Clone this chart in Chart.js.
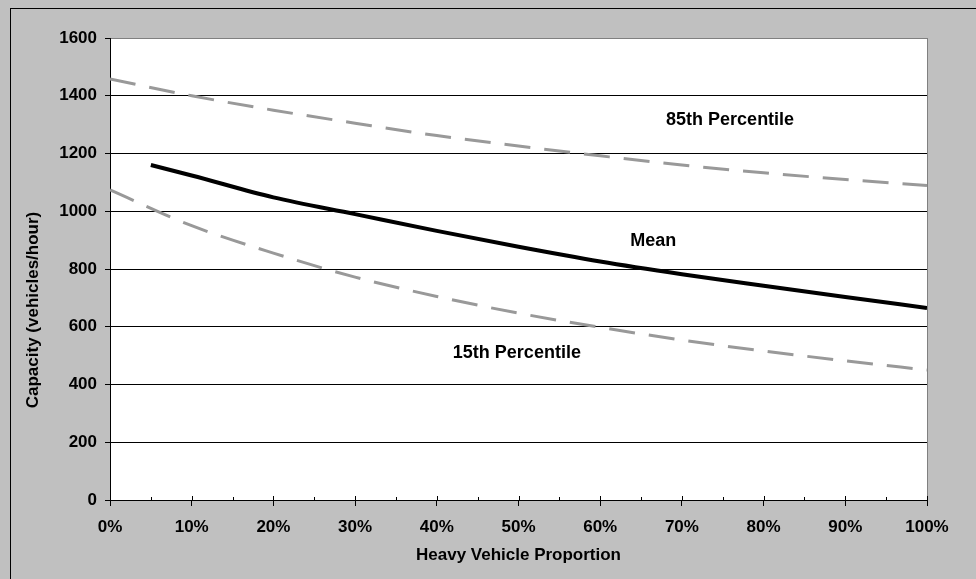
<!DOCTYPE html>
<html>
<head>
<meta charset="utf-8">
<script src="https://cdn.jsdelivr.net/npm/chart.js@4"></script>
<style>
  html, body { margin: 0; padding: 0; background: #c0c0c0; }
  #wrap { width: 976px; height: 579px; }
</style>
</head>
<body>
<div id="wrap"><canvas id="myChart" width="976" height="579"></canvas></div>
<script>
// heavy vehicle proportion (%)
var proportion = [0, 10, 20, 30, 40, 50, 60, 70, 80, 90, 100];
var meanProportion = [5, 10, 20, 30, 40, 50, 60, 70, 80, 90, 100];
var meanCapacity = [1160, 1124, 1048, 990, 932, 877, 826, 782, 742, 703, 665];
var pct85Capacity = [1458, 1400, 1350, 1305, 1262, 1226, 1192, 1160, 1133, 1110, 1089];
var pct15Capacity = [1074, 950, 855, 772, 705, 647, 598, 554, 516, 482, 450];
var yTicks = [0, 200, 400, 600, 800, 1000, 1200, 1400, 1600];
var curveLabels = [
    { text: '85th Percentile', x: 75.9, y: 1316 },
    { text: 'Mean', x: 66.5, y: 897 },
    { text: '15th Percentile', x: 49.8, y: 509 }
];

function pairs(xs, ys) {
    return xs.map(function (x, i) { return { x: x, y: ys[i] }; });
}

var FONT = 'Arial, "Liberation Sans", sans-serif';

var decor = {
    id: 'decor',
    beforeDraw: function (chart) {
        var c = chart.ctx;
        c.save();
        c.fillStyle = '#c0c0c0';
        c.fillRect(0, 0, chart.width, chart.height);
        c.strokeStyle = '#000';
        c.lineWidth = 1;
        c.strokeRect(10.5, 8.5, 3000, 3000);
        var a = chart.chartArea;
        c.fillStyle = '#fff';
        c.fillRect(a.left, a.top, a.right - a.left, a.bottom - a.top);
        c.restore();
    },
    afterDraw: function (chart) {
        var c = chart.ctx, a = chart.chartArea;
        var xs = chart.scales.x, ys = chart.scales.y;
        c.save();
        // right plot border
        c.strokeStyle = '#808080';
        c.lineWidth = 1;
        c.beginPath();
        c.moveTo(Math.round(a.right) + 0.5, a.top);
        c.lineTo(Math.round(a.right) + 0.5, a.bottom);
        c.stroke();
        // small inside ticks on x axis
        c.strokeStyle = '#000';
        c.beginPath();
        for (var p = 0; p <= 100; p += 5) {
            var px = Math.round(xs.getPixelForValue(p)) + 0.5;
            var len = p % 10 === 0 ? 4 : 3;
            c.moveTo(px, a.bottom);
            c.lineTo(px, a.bottom - len);
        }
        c.stroke();
        // curve labels
        c.fillStyle = '#000';
        c.font = 'bold 18px ' + FONT;
        c.textAlign = 'center';
        c.textBaseline = 'middle';
        curveLabels.forEach(function (l) {
            c.fillText(l.text, xs.getPixelForValue(l.x), ys.getPixelForValue(l.y));
        });
        // y axis title
        c.font = 'bold 17px ' + FONT;
        c.translate(33, 310);
        c.rotate(-Math.PI / 2);
        c.fillText('Capacity (vehicles/hour)', 0, 0);
        c.restore();
    }
};

var ctx = document.getElementById('myChart').getContext('2d');
var myChart = new Chart(ctx, {
    type: 'line',
    data: {
        datasets: [{
            label: '85th Percentile',
            data: pairs(proportion, pct85Capacity),
            borderColor: '#999999',
            borderWidth: 3,
            borderDash: [26, 14],
            pointRadius: 0,
            cubicInterpolationMode: 'monotone'
        }, {
            label: 'Mean',
            data: pairs(meanProportion, meanCapacity),
            borderColor: '#000000',
            borderWidth: 4,
            pointRadius: 0,
            cubicInterpolationMode: 'monotone'
        }, {
            label: '15th Percentile',
            data: pairs(proportion, pct15Capacity),
            borderColor: '#999999',
            borderWidth: 3,
            borderDash: [26, 14],
            pointRadius: 0,
            cubicInterpolationMode: 'monotone'
        }]
    },
    options: {
        responsive: false,
        animation: false,
        layout: { padding: { left: 0, top: 38, right: 49, bottom: 0 } },
        plugins: {
            legend: { display: false },
            tooltip: { enabled: false }
        },
        scales: {
            x: {
                type: 'linear',
                min: 0,
                max: 100,
                afterFit: function (s) { s.height = 79; },
                ticks: {
                    stepSize: 10,
                    padding: 11,
                    color: '#000',
                    maxRotation: 0,
                    font: { family: FONT, size: 17, weight: 'bold' },
                    callback: function (v) { return v + '%'; }
                },
                grid: { drawOnChartArea: false, color: '#000', tickLength: 6 },
                border: { color: '#000', width: 1 },
                title: {
                    display: true,
                    text: 'Heavy Vehicle Proportion',
                    color: '#000',
                    font: { family: FONT, size: 17, weight: 'bold' },
                    padding: { top: 0, bottom: 13 }
                }
            },
            y: {
                min: 0,
                max: 1600,
                afterFit: function (s) { s.width = 110; },
                afterBuildTicks: function (s) {
                    s.ticks = yTicks.map(function (v) { return { value: v }; });
                },
                ticks: {
                    padding: 8,
                    color: '#000',
                    font: { family: FONT, size: 17, weight: 'bold' },
                    callback: function (v) { return String(v); }
                },
                grid: {
                    color: function (c) { return c.tick && c.tick.value === 1600 ? '#808080' : '#000'; },
                    tickColor: '#000',
                    tickLength: 5,
                    lineWidth: 1
                },
                border: { color: '#000', width: 1 }
            }
        }
    },
    plugins: [decor]
});
</script>
</body>
</html>
